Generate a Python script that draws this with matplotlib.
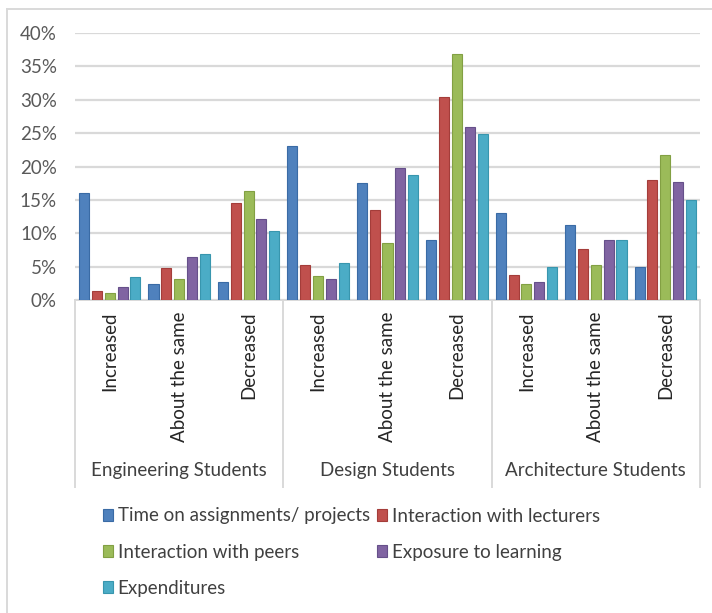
import matplotlib.pyplot as plt
import numpy as np
from matplotlib.patches import Patch
from matplotlib.lines import Line2D
from matplotlib.ticker import PercentFormatter, MultipleLocator
from matplotlib.transforms import blended_transform_factory

plt.rcParams['font.family'] = ['Lato', 'DejaVu Sans']

# survey groups and answers
groups = ['Engineering Students', 'Design Students', 'Architecture Students']
answers = ['Increased', 'About the same', 'Decreased']

series = ['Time on assignments/ projects', 'Interaction with lecturers',
          'Interaction with peers', 'Exposure to learning', 'Expenditures']
colors = ['#4F81BD', '#C0504D', '#9BBB59', '#8064A2', '#4BACC6']
edges = ['#3A6BA5', '#A43D3A', '#82A043', '#66508A', '#3896AE']

# percentages, one list per series, ordered group by group (Inc, Same, Dec)
time_on_assignments = [16.0, 2.4, 2.7, 23.0, 17.5, 9.0, 13.0, 11.2, 5.0]
interaction_lecturers = [1.4, 4.8, 14.5, 5.2, 13.5, 30.4, 3.8, 7.7, 18.0]
interaction_peers = [1.0, 3.2, 16.4, 3.6, 8.6, 36.9, 2.4, 5.3, 21.7]
exposure_learning = [1.9, 6.4, 12.2, 3.2, 19.8, 25.9, 2.7, 9.0, 17.7]
expenditures = [3.5, 6.9, 10.3, 5.6, 18.8, 24.9, 5.0, 9.0, 15.0]

values = [time_on_assignments, interaction_lecturers, interaction_peers,
          exposure_learning, expenditures]

W, H = 712, 613
FS = 13.5
fig = plt.figure(figsize=(W / 100, H / 100), dpi=100)
ax = fig.add_axes([75 / W, 1 - 300 / H, 625 / W, 267 / H])

n_cat = len(groups) * len(answers)
x = np.arange(n_cat)
slot = 0.185
width = 0.145
for i, (vals, c, e) in enumerate(zip(values, colors, edges)):
    off = (i - 2) * slot
    ax.bar(x + off, np.array(vals) / 100, width, color=c, edgecolor=e,
           linewidth=0.8, zorder=3)

ax.set_xlim(-0.5, n_cat - 0.5)
ax.set_ylim(0, 0.40)
ax.yaxis.set_major_locator(MultipleLocator(0.05))
ax.yaxis.set_major_formatter(PercentFormatter(1.0, decimals=0))
ax.grid(axis='y', color='#D9D9D9', linewidth=1.6, zorder=0)
for s in ['top', 'right', 'left']:
    ax.spines[s].set_visible(False)
ax.spines['bottom'].set_color('#D9D9D9')
ax.spines['bottom'].set_linewidth(1.4)
ax.tick_params(axis='y', length=0, pad=13, labelsize=FS, labelcolor='#595959')

ax.set_xticks(x)
ax.set_xticklabels(answers * len(groups), rotation=90, va='top', ha='center')
ax.tick_params(axis='x', length=0, pad=8, labelsize=FS, labelcolor='#262626')

# multi-level category axis: separators and group names
trans = blended_transform_factory(ax.transData, ax.transAxes)
for b in np.arange(0, n_cat + 1, len(answers)) - 0.5:
    ax.add_line(Line2D([b, b], [0, -0.70], transform=trans, color='#D9D9D9',
                       linewidth=1.4, clip_on=False))
for g, name in enumerate(groups):
    ax.text(g * len(answers) + 1, -0.64, name, transform=trans, ha='center',
            va='center', fontsize=FS, color='#404040')

# outer chart frame
fig.add_artist(Line2D([7 / W, 7 / W], [0, 1 - 9 / H], color='#D9D9D9',
                      linewidth=1.4, transform=fig.transFigure))
fig.add_artist(Line2D([7 / W, 1], [1 - 9 / H, 1 - 9 / H], color='#D9D9D9',
                      linewidth=1.4, transform=fig.transFigure))

handles = [Patch(facecolor=c, edgecolor=e, linewidth=0.8, label=s)
           for s, c, e in zip(series, colors, edges)]
order = [0, 2, 4, 1, 3]
fig.legend([handles[i] for i in order], [series[i] for i in order], ncol=2,
           loc='upper left', bbox_to_anchor=(95 / W, 1 - 500 / H),
           frameon=False, fontsize=FS, labelcolor='#404040',
           handlelength=0.55, handleheight=0.55, handletextpad=0.25,
           columnspacing=0.4, labelspacing=1.02, borderaxespad=0)

fig.savefig('out.png', dpi=100, facecolor='white')
